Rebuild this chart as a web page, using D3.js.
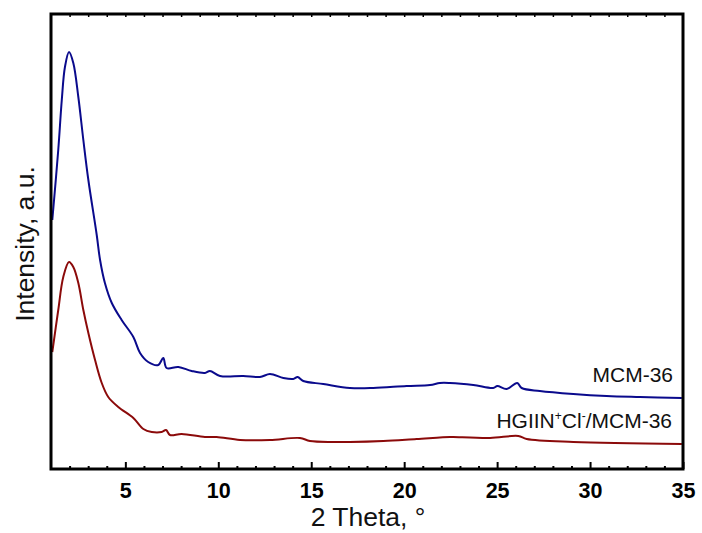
<!DOCTYPE html>
<html>
<head>
<meta charset="utf-8">
<script src="https://cdn.jsdelivr.net/npm/d3@7"></script>
<style>
  body { margin: 0; background: #fff; }
  svg { display: block; font-family: Arial, "Liberation Sans", sans-serif; }
</style>
</head>
<body>
<svg id="chart" width="702" height="533"></svg>
<script>
// 2 Theta values and intensities (a.u.)
var mcmTheta = [1.07, 1.39, 1.58, 1.75, 1.97, 2.20, 2.47, 2.74, 3.01, 3.46, 3.64, 3.90, 4.27, 4.80, 5.43, 5.79, 6.23, 6.77, 7.04, 7.22, 7.85, 8.57, 9.28, 9.55, 10.09, 11.34, 12.24, 12.78, 13.50, 14.03, 14.27, 14.57, 15.65, 17.08, 18.34, 20.13, 21.39, 21.92, 22.46, 23.72, 24.79, 25.01, 25.51, 26.08, 26.32, 27.30, 29.10, 30.89, 32.68, 34.94];
var mcmIntensity = [249, 319, 369, 402, 417, 406, 372, 329, 289, 234, 209, 186, 166, 149, 132, 116, 107, 104, 111, 101, 102, 98, 96, 98, 93, 93, 92, 95, 91, 90, 92, 88, 85, 81, 81, 83, 84, 86, 86, 84, 81, 83, 80, 86, 81, 78, 75, 73, 72, 71];

var hgTheta = [1.07, 1.39, 1.66, 1.97, 2.20, 2.47, 2.74, 3.01, 3.37, 3.73, 4.08, 4.62, 5.43, 5.97, 6.42, 6.95, 7.19, 7.40, 8.03, 9.28, 9.91, 11.17, 12.78, 14.39, 14.93, 16.19, 17.08, 18.88, 20.67, 22.46, 22.64, 24.62, 26.14, 26.59, 29.10, 34.94];
var hgIntensity = [117, 159, 192, 207, 202, 186, 159, 136, 109, 86, 72, 62, 51, 40, 37, 37, 39, 34, 35, 32, 32, 29, 29, 31, 28, 27, 27, 28, 30, 32, 32, 31, 33, 30, 27, 25];

var majorTicks = [5, 10, 15, 20, 25, 30, 35];
var minorTicks = d3.range(2, 35).filter(function (v) { return v % 5 !== 0; });

(function () {
    var svg = d3.select('#chart');

    var marginLeft = 51, marginRight = 683, marginTop = 14, marginBottom = 469;

    var scaleX = d3.scaleLinear().domain([1, 35]).range([marginLeft, marginRight]);
    var scaleY = d3.scaleLinear().domain([0, 455]).range([marginBottom, marginTop]);

    function drawSeries(xs, ys, color) {
        var line = d3.line()
            .x(function (d) { return scaleX(d[0]); })
            .y(function (d) { return scaleY(d[1]); })
            .curve(d3.curveCatmullRom.alpha(0.5));

        svg.append('path')
            .datum(d3.zip(xs, ys))
            .attr('d', line)
            .attr('fill', 'none')
            .attr('stroke', color)
            .attr('stroke-width', 2)
            .attr('stroke-linejoin', 'round');
    }

    drawSeries(hgTheta, hgIntensity, '#8b0a0a');
    drawSeries(mcmTheta, mcmIntensity, '#0a0a8c');

    // bottom axis, ticks pointing inward
    svg.append('g')
        .attr('transform', 'translate(0,' + marginBottom + ')')
        .call(d3.axisBottom(scaleX).tickValues(majorTicks).tickSize(-7).tickPadding(14))
        .call(function (g) {
            g.select('.domain').remove();
            g.selectAll('.tick line').attr('stroke', '#000').attr('stroke-width', 2);
            g.selectAll('.tick text')
                .attr('fill', '#000')
                .attr('font-size', 21.5)
                .attr('font-weight', 'bold')
                .attr('font-family', 'Arial, "Liberation Sans", sans-serif');
        });

    svg.append('g')
        .attr('transform', 'translate(0,' + marginBottom + ')')
        .call(d3.axisBottom(scaleX).tickValues(minorTicks).tickSize(-3).tickFormat(''))
        .call(function (g) {
            g.select('.domain').remove();
            g.selectAll('.tick line').attr('stroke', '#000').attr('stroke-width', 2);
        });

    // top axis, small ticks only
    svg.append('g')
        .attr('transform', 'translate(0,' + marginTop + ')')
        .call(d3.axisTop(scaleX).tickValues(d3.range(2, 35)).tickSize(-3).tickFormat(''))
        .call(function (g) {
            g.select('.domain').remove();
            g.selectAll('.tick line').attr('stroke', '#000').attr('stroke-width', 1.5);
        });

    // frame
    svg.append('rect')
        .attr('x', marginLeft)
        .attr('y', marginTop)
        .attr('width', marginRight - marginLeft)
        .attr('height', marginBottom - marginTop)
        .attr('fill', 'none')
        .attr('stroke', '#000')
        .attr('stroke-width', 3);

    // axis titles
    svg.append('text')
        .attr('x', 368)
        .attr('y', 526)
        .attr('text-anchor', 'middle')
        .attr('font-size', 26.5)
        .attr('fill', '#111')
        .text('2 Theta, \u00b0');

    svg.append('text')
        .attr('transform', 'translate(34,' + 244 + ') rotate(-90)')
        .attr('text-anchor', 'middle')
        .attr('font-size', 26.5)
        .attr('fill', '#111')
        .text('Intensity, a.u.');

    // series labels
    svg.append('text')
        .attr('x', 673)
        .attr('y', 382)
        .attr('text-anchor', 'end')
        .attr('font-size', 21)
        .attr('fill', '#111')
        .text('MCM-36');

    var hgLabel = svg.append('text')
        .attr('x', 672)
        .attr('y', 428)
        .attr('text-anchor', 'end')
        .attr('font-size', 21)
        .attr('fill', '#111');
    hgLabel.append('tspan').text('HGIIN');
    hgLabel.append('tspan').attr('font-size', 12).attr('dy', -8).text('+');
    hgLabel.append('tspan').attr('dy', 8).text('Cl');
    hgLabel.append('tspan').attr('font-size', 12).attr('dy', -8).text('-');
    hgLabel.append('tspan').attr('dy', 8).text('/MCM-36');
}());
</script>
</body>
</html>
